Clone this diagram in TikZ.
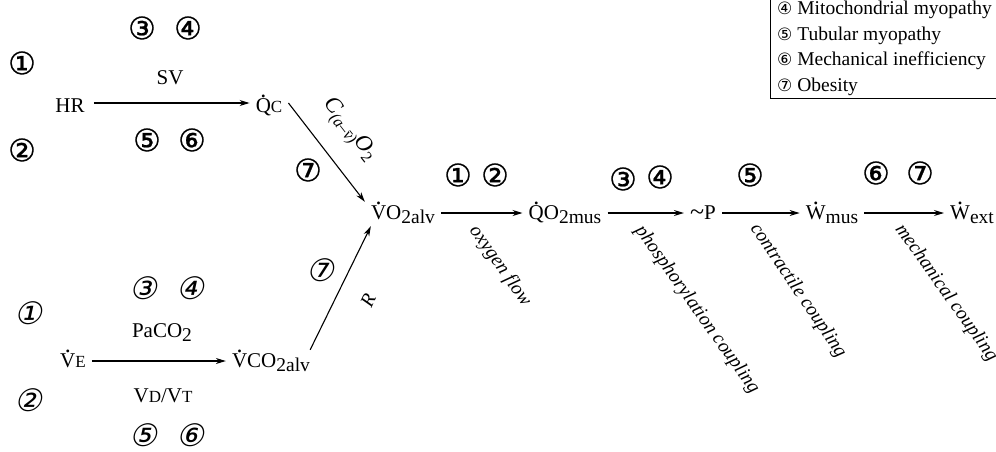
\documentclass[tikz,border=0pt]{standalone}
\usepackage{fontspec}
\setmainfont{Liberation Serif}
\newfontfamily\cbfont[FakeBold=0.7]{DejaVu Sans}
\newfontfamily\cnfont{DejaVu Sans}
\newfontfamily\cifont[FakeSlant=0.22]{DejaVu Sans}
\usetikzlibrary{arrows.meta}
\newcommand\dt[1]{\setbox0\hbox{#1}\leavevmode\rlap{\hbox to\wd0{\hss\raisebox{\dimexpr\ht0+1pt\relax}{\fontsize{24}{24}\selectfont .}\hss}}\box0}
\newcommand\sbs[1]{\raisebox{-4pt}{\fontsize{19.5}{20}\selectfont #1}}
\newcommand\smc[1]{{\fontsize{17}{17}\selectfont #1}}
\tikzset{
  lbl/.style={font=\fontsize{21}{24}\selectfont, inner xsep=6pt, inner ysep=0pt, anchor=base},
  rowA/.style={lbl, text height=18pt, text depth=0pt},
  rowB/.style={lbl, text height=17pt, text depth=5pt},
  cB/.style={font=\cbfont\fontsize{31}{31}\selectfont, inner sep=0pt},
  cI/.style={font=\cifont\fontsize{31}{31}\selectfont, inner sep=0pt},
  rot/.style={font=\itshape\fontsize{19.5}{20}\selectfont, inner sep=0pt},
  arr/.style={-{Stealth[length=10pt,width=6pt]}, line width=1.1pt},
}
\begin{document}
\begin{tikzpicture}[x=1pt,y=-1pt]
\useasboundingbox (0,0) rectangle (996,451);
% top branch
\node[cB] (t1) at (22,63) {①};
\node[cB] (t2) at (22,150) {②};
\node[cB] (t3) at (142,28) {③};
\node[cB] (t4) at (188,28) {④};
\node[cB] (t5) at (147,140) {⑤};
\node[cB] (t6) at (192,140) {⑥};
\node[lbl] (sv) at (170,84) {SV};
\node[rowA] (hr) at (70,112) {HR};
\node[rowA] (qc) at (269,112) {\dt{Q}\smc{C}};
\draw[arr] ([xshift=3pt]hr.east) -- (qc);
% middle chain
\node[rowB] (vo) at (403,219) {\dt{V}O\sbs{2alv}};
\node[rowB] (qo) at (565,219) {\dt{Q}O\sbs{2mus}};
\node[rowB] (p) at (703,219) {\raisebox{-1pt}{\fontsize{26}{26}\selectfont\textasciitilde}P};
\node[rowB] (wm) at (832,219) {\dt{W}\sbs{mus}};
\node[rowB] (we) at (972,219) {\dt{W}\sbs{ext}};
\draw[arr] (vo) -- (qo);
\draw[arr] (qo) -- (p);
\draw[arr] (p) -- (wm);
\draw[arr] (wm) -- (we);
\node[cB] (m1) at (458,175) {①};
\node[cB] (m2) at (495,175) {②};
\node[cB] (m3) at (623,179) {③};
\node[cB] (m4) at (660,177) {④};
\node[cB] (m5) at (750,175) {⑤};
\node[cB] (m6) at (876,173) {⑥};
\node[cB] (m7) at (920,173) {⑦};
\node[rot, rotate=-55] (l1) at (500,266) {oxygen flow};
\node[rot, rotate=-54.5] (l2) at (697,310) {phosphorylation coupling};
\node[rot, rotate=-56] (l3) at (798,291) {contractile coupling};
\node[rot, rotate=-54.5] (l4) at (946,293) {mechanical coupling};
% diagonal from QC
\draw[arr] (qc.east) -- (vo.north west);
\node[rot, rotate=-52] (cav) at (349,130) {{\fontsize{23}{23}\selectfont C}\raisebox{-5pt}{\fontsize{16}{16}\selectfont (a--\=v)}{\fontsize{23}{23}\selectfont O}\raisebox{-5pt}{\fontsize{16}{16}\selectfont\upshape 2}};
\node[cB] (d7) at (308,170) {⑦};
% bottom branch
\node[cI] (b1) at (28,313) {①};
\node[cI] (b2) at (28,400) {②};
\node[cI] (b3) at (143,288) {③};
\node[cI] (b4) at (190,288) {④};
\node[cI] (b5) at (143,435) {⑤};
\node[cI] (b6) at (190,435) {⑥};
\node[lbl] (pa) at (162,337) {PaCO\sbs{2}};
\node[lbl] (vd) at (163,402) {V\smc{D}/V\smc{T}};
\node[rowB] (ve) at (73,367) {\dt{V}\smc{E}};
\node[rowB] (vc) at (271,367) {\dt{V}CO\sbs{2alv}};
\draw[arr] (ve) -- (vc);
\draw[arr] ([xshift=-6pt]vc.north east) -- ([xshift=6pt,yshift=-2pt]vo.south west);
\node[cI] (e7) at (320,270) {⑦};
\node[rot, rotate=65] (r) at (368,300) {R};
% legend
\node[anchor=north west, align=left, font=\fontsize{19.5}{25.5}\selectfont, inner xsep=7pt, inner ysep=3pt] (leg) at (770,-2)
  {{\cnfont\fontsize{17}{17}\selectfont ④} Mitochondrial myopathy\\
   {\cnfont\fontsize{17}{17}\selectfont ⑤} Tubular myopathy\\
   {\cnfont\fontsize{17}{17}\selectfont ⑥} Mechanical inefficiency\\
   {\cnfont\fontsize{17}{17}\selectfont ⑦} Obesity};
\draw[line width=0.8pt] (leg.north west) -- (leg.south west) -- (leg.south west -| 996,0);
\end{tikzpicture}
\end{document}
